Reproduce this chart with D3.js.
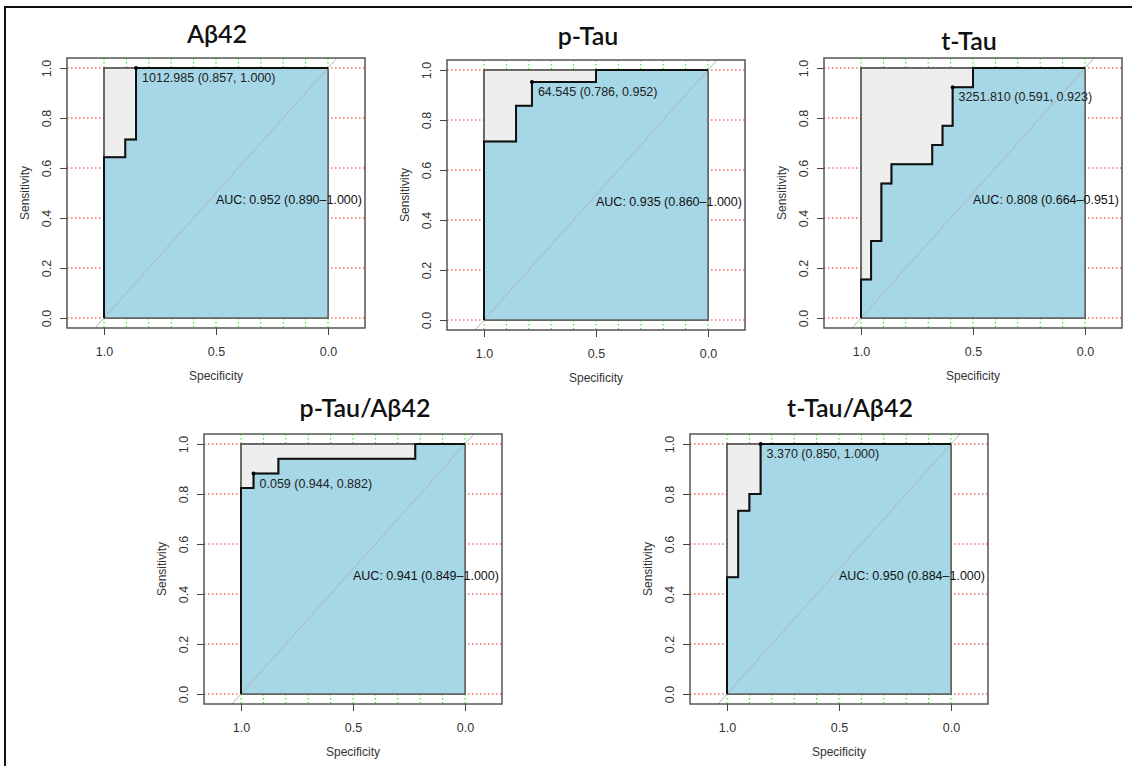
<!DOCTYPE html>
<html>
<head>
<meta charset="utf-8">
<script src="https://cdn.jsdelivr.net/npm/d3@7"></script>
<style>
  body { margin: 0; background: #fff; }
  svg { display: block; }
</style>
</head>
<body>
<svg id="chart" width="1132" height="766"></svg>
<script>
// Panel titles
const titles = ["Aβ42", "p-Tau", "t-Tau", "p-Tau/Aβ42", "t-Tau/Aβ42"];

// ROC step curves (specificity, sensitivity)
const specAb42 = [1, 1, 0.905, 0.905, 0.857, 0.857, 0];
const sensAb42 = [0, 0.643, 0.643, 0.714, 0.714, 1, 1];

const specPTau = [1, 1, 0.857, 0.857, 0.786, 0.786, 0.5, 0.5, 0];
const sensPTau = [0, 0.714, 0.714, 0.857, 0.857, 0.952, 0.952, 1, 1];

const specTTau = [1, 1, 0.955, 0.955, 0.909, 0.909, 0.864, 0.864, 0.682, 0.682, 0.636, 0.636, 0.591, 0.591, 0.5, 0.5, 0];
const sensTTau = [0, 0.154, 0.154, 0.308, 0.308, 0.538, 0.538, 0.615, 0.615, 0.692, 0.692, 0.769, 0.769, 0.923, 0.923, 1, 1];

const specPRatio = [1, 1, 0.944, 0.944, 0.833, 0.833, 0.222, 0.222, 0];
const sensPRatio = [0, 0.824, 0.824, 0.882, 0.882, 0.941, 0.941, 1, 1];

const specTRatio = [1, 1, 0.95, 0.95, 0.9, 0.9, 0.85, 0.85, 0];
const sensTRatio = [0, 0.467, 0.467, 0.733, 0.733, 0.8, 0.8, 1, 1];

// Best thresholds and AUC with CI
const thresholds = ["1012.985", "64.545", "3251.810", "0.059", "3.370"];
const bestSpec = [0.857, 0.786, 0.591, 0.944, 0.850];
const bestSens = [1.000, 0.952, 0.923, 0.882, 1.000];
const aucValues = [0.952, 0.935, 0.808, 0.941, 0.950];
const ciLow = [0.890, 0.860, 0.664, 0.849, 0.884];
const ciHigh = [1.000, 1.000, 0.951, 1.000, 1.000];

// Axis ticks and grid
const xTicks = [1.0, 0.5, 0.0];
const yTicks = [0.0, 0.2, 0.4, 0.6, 0.8, 1.0];
const gridX = [0, 0.1, 0.2, 0.3, 0.4, 0.5, 0.6, 0.7, 0.8, 0.9, 1.0];
const gridY = [0, 0.2, 0.4, 0.6, 0.8, 1.0];

const specs = [specAb42, specPTau, specTTau, specPRatio, specTRatio];
const senss = [sensAb42, sensPTau, sensTTau, sensPRatio, sensTRatio];

// Layout of each panel: box top-left, title position
const panels = [
  { left: 67,  top: 58,  tx: 217, ty: 43 },
  { left: 447, top: 60,  tx: 588, ty: 45 },
  { left: 824, top: 58,  tx: 969, ty: 50 },
  { left: 204, top: 434, tx: 365, ty: 417 },
  { left: 690, top: 434, tx: 850, ty: 417 }
];

const boxW = 298, boxH = 270;
const padL = 37, padT = 10, dataW = 224, dataH = 250;
const numFont = "'Liberation Sans', Arial, sans-serif";

const svg = d3.select("#chart");

// outer frame (top and left edges only)
svg.append("path")
  .attr("d", "M5,766 L5,7 L1132,7")
  .attr("fill", "none")
  .attr("stroke", "#111")
  .attr("stroke-width", 2);

panels.forEach((p, i) => {
  const g = svg.append("g").attr("transform", `translate(${p.left},${p.top})`);

  const x = d3.scaleLinear().domain([1, 0]).range([padL, padL + dataW]);
  const y = d3.scaleLinear().domain([0, 1]).range([padT + dataH, padT]);

  // grid
  g.selectAll(".gx").data(gridX).enter().append("line")
    .attr("x1", d => x(d)).attr("x2", d => x(d))
    .attr("y1", 0).attr("y2", boxH)
    .attr("stroke", "#00ee00").attr("stroke-width", 1)
    .attr("stroke-dasharray", "1.5,2.5");
  g.selectAll(".gy").data(gridY).enter().append("line")
    .attr("x1", 0).attr("x2", boxW)
    .attr("y1", d => y(d)).attr("y2", d => y(d))
    .attr("stroke", "#ff2020").attr("stroke-width", 1)
    .attr("stroke-dasharray", "1.5,2.5");

  // max AUC polygon
  g.append("rect")
    .attr("x", x(1)).attr("y", y(1))
    .attr("width", x(0) - x(1)).attr("height", y(0) - y(1))
    .attr("fill", "#eeeeee")
    .attr("stroke", "#333").attr("stroke-width", 1.4);

  const pts = specs[i].map((s, k) => [s, senss[i][k]]);

  // AUC polygon
  const poly = pts.concat([[0, 0]]);
  g.append("path")
    .attr("d", "M" + poly.map(d => x(d[0]) + "," + y(d[1])).join("L") + "Z")
    .attr("fill", "#a6d7e6")
    .attr("stroke", "#666").attr("stroke-width", 1.5);

  // identity line
  g.append("line")
    .attr("x1", x(1.04)).attr("y1", y(-0.04))
    .attr("x2", x(-0.04)).attr("y2", y(1.04))
    .attr("stroke", "#b4b4b4").attr("stroke-width", 1);

  // ROC curve
  const line = d3.line().x(d => x(d[0])).y(d => y(d[1]));
  g.append("path")
    .attr("d", line(pts))
    .attr("fill", "none")
    .attr("stroke", "#111").attr("stroke-width", 2);

  // best threshold
  const bx = x(bestSpec[i]), by = y(bestSens[i]);
  g.append("circle").attr("cx", bx).attr("cy", by).attr("r", 2).attr("fill", "#000");
  g.append("text")
    .attr("x", bx + 6).attr("y", by + 10)
    .attr("dominant-baseline", "central")
    .attr("font-family", numFont).attr("font-size", 12.5)
    .attr("fill", "#222")
    .text(`${thresholds[i]} (${bestSpec[i].toFixed(3)}, ${bestSens[i].toFixed(3)})`);

  // AUC text
  g.append("text")
    .attr("x", x(0.5)).attr("y", y(0.5) + 6.5)
    .attr("dominant-baseline", "central")
    .attr("font-family", numFont).attr("font-size", 12.5)
    .attr("fill", "#111")
    .text(`AUC: ${aucValues[i].toFixed(3)} (${ciLow[i].toFixed(3)}–${ciHigh[i].toFixed(3)})`);

  // box
  g.append("rect")
    .attr("x", 0).attr("y", 0).attr("width", boxW).attr("height", boxH)
    .attr("fill", "none").attr("stroke", "#555").attr("stroke-width", 1.5);

  // y axis
  const ya = g.append("g").attr("transform", "translate(0,0)")
    .call(d3.axisLeft(y).tickValues(yTicks).tickSize(7).tickFormat(d3.format(".1f")));
  ya.select(".domain").remove();
  ya.selectAll("line").attr("stroke", "#444");
  ya.selectAll("text")
    .attr("transform", "rotate(-90)")
    .attr("x", 0).attr("y", -20).attr("dy", null)
    .attr("text-anchor", "middle")
    .attr("dominant-baseline", "central")
    .attr("font-family", numFont).attr("font-size", 12.5)
    .attr("fill", "#333");

  // x axis
  const xa = g.append("g").attr("transform", `translate(0,${boxH})`)
    .call(d3.axisBottom(x).tickValues(xTicks).tickSize(7).tickFormat(d3.format(".1f")));
  xa.select(".domain").remove();
  xa.selectAll("line").attr("stroke", "#444");
  xa.selectAll("text")
    .attr("y", 24).attr("dy", null)
    .attr("dominant-baseline", "central")
    .attr("font-family", numFont).attr("font-size", 12.5)
    .attr("fill", "#333");

  // axis titles
  g.append("text")
    .attr("transform", `translate(${-42},${y(0.5)}) rotate(-90)`)
    .attr("text-anchor", "middle").attr("dominant-baseline", "central")
    .attr("font-family", numFont).attr("font-size", 12)
    .attr("fill", "#333")
    .text("Sensitivity");
  g.append("text")
    .attr("x", x(0.5)).attr("y", boxH + 48)
    .attr("text-anchor", "middle").attr("dominant-baseline", "central")
    .attr("font-family", numFont).attr("font-size", 12)
    .attr("fill", "#333")
    .text("Specificity");

  // panel title
  svg.append("text")
    .attr("x", p.tx).attr("y", p.ty)
    .attr("text-anchor", "middle")
    .attr("font-family", "Lato, 'Open Sans', sans-serif")
    .attr("font-size", 25)
    .attr("font-weight", 600)
    .attr("fill", "#111")
    .text(titles[i]);
});
</script>
</body>
</html>
